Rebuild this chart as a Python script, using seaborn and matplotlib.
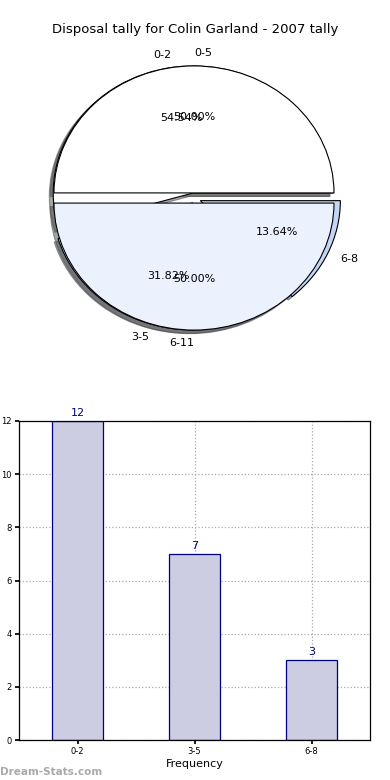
import matplotlib
matplotlib.use("Agg")
import matplotlib.pyplot as plt
import seaborn as sns
import pandas as pd

sns.set_theme(style="white")
plt.rcParams["font.family"] = ["DejaVu Sans"]
plt.rcParams["text.color"] = "black"
plt.rcParams["xtick.color"] = "black"
plt.rcParams["ytick.color"] = "black"
plt.rcParams["axes.labelcolor"] = "black"

# data
bin_labels = ["0-2", "3-5", "6-8"]
bin_counts = [12, 7, 3]
bin_pcts = [54.55, 31.82, 13.64]
wide_labels = ["0-5", "6-11"]
wide_pcts = [50.0, 50.0]

TITLE = "Disposal tally for Colin Garland - 2007 tally"
BAR_FILL = "#ccccE2"
BAR_EDGE = "#00007f"

fig = plt.figure(figsize=(3.9, 7.8), dpi=100)
fig.text(0.5, 1 - 30 / 780, TITLE, ha="center", va="center", fontsize=9.5)

# ── pie ─────────────────────────────────────────────────────
W, H = 390, 780
ax1 = fig.add_axes([0, (H - 360) / H, 1, 320 / H])
wedge_kw = {"edgecolor": "black", "linewidth": 0.8}
ax1.pie(bin_pcts, labels=bin_labels, autopct="%1.2f%%",
        colors=["white", "#eaf0fd", "#c4d6f6"],
        explode=[0.04, 0.04, 0.05], startangle=0, shadow=True,
        wedgeprops=wedge_kw, textprops={"fontsize": 8})
_, wide_txt, _ = ax1.pie(wide_pcts, labels=wide_labels, autopct="%1.2f%%",
                         colors=["white", "#ebf1fd"],
                         explode=[0.04, 0.04], startangle=0, shadow=True,
                         wedgeprops=wedge_kw, textprops={"fontsize": 8})
wide_txt[0].set_ha("left")
wide_txt[1].set_ha("right")
ax1.set_aspect("auto")
rx, ry = 140, 127
ax1.set_xlim(-194 / rx, (W - 194) / rx)
ax1.set_ylim(-(360 - 198) / ry, (198 - 40) / ry)
ax1.axis("off")

# ── bars ────────────────────────────────────────────────────
ax2 = fig.add_axes([19 / W, 40 / H, 351 / W, 319 / H])
df = pd.DataFrame({"bin": bin_labels, "count": bin_counts})
sns.barplot(data=df, x="bin", y="count", ax=ax2, width=0.44,
            color=BAR_FILL, saturation=1, edgecolor=BAR_EDGE, linewidth=0.9,
            zorder=1)
for p in ax2.patches:
    p.set_facecolor(BAR_FILL)
    p.set_edgecolor(BAR_EDGE)
for i, v in enumerate(bin_counts):
    ax2.text(i, v + 0.12, str(v), ha="center", va="bottom",
             fontsize=8, color=BAR_EDGE)
ax2.set_xlim(-0.5, 2.5)
ax2.set_ylim(0, 12)
ax2.set_yticks(range(0, 13, 2))
ax2.grid(True, linestyle=":", color="#aaaaaa", linewidth=0.9, zorder=0)
ax2.set_axisbelow(True)
ax2.tick_params(axis="both", labelsize=6, length=3, direction="out",
                left=True, bottom=True, pad=2)
for s in ax2.spines.values():
    s.set_color("black")
    s.set_linewidth(0.9)
ax2.set_xlabel("Frequency", fontsize=8, labelpad=2)
ax2.set_ylabel("Disposal Tally", fontsize=7, labelpad=4)

fig.text(0, 8 / H, "Dream-Stats.com", ha="left", va="center",
         fontsize=7.5, color="#aaaaaa", fontweight="bold")

fig.savefig("out.png", dpi=100)
